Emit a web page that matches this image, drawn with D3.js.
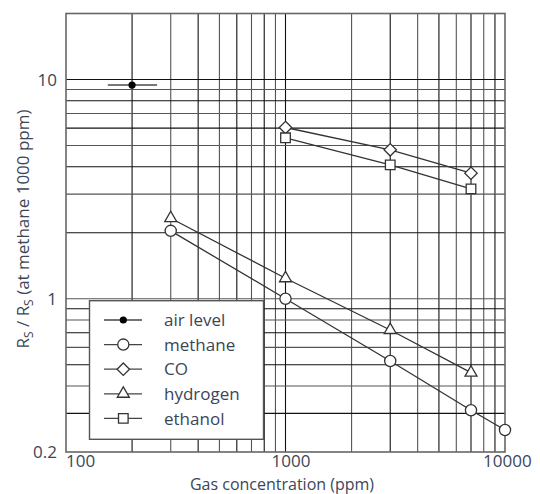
<!DOCTYPE html>
<html>
<head>
<meta charset="utf-8">
<script src="https://cdn.jsdelivr.net/npm/d3@7"></script>
<style>
  html, body { margin: 0; padding: 0; background: #fff; }
  svg { display: block; }
  text { font-family: "Open Sans", "DejaVu Sans", sans-serif; fill: #3b4658; }
</style>
</head>
<body>
<svg id="chart" width="540" height="494"></svg>
<script>
// ---- data ----
const xTickLabels = [100, 1000, 10000];
const yTickLabels = [0.2, 1, 10];
const xGridValues = [200, 300, 400, 500, 600, 700, 800, 900, 1000, 2000, 3000, 4000, 5000, 6000, 7000, 8000, 9000];
const yGridValues = [0.3, 0.4, 0.5, 0.6, 0.7, 0.8, 0.9, 1, 2, 3, 4, 5, 6, 7, 8, 9, 10];

const airConc = 200, airValue = 9.43, airRange = [155, 260];
const methaneConc = [300, 1000, 3000, 7000, 10000];
const methaneValues = [2.04, 1.0, 0.52, 0.31, 0.252];
const hydrogenConc = [300, 1000, 3000, 7000];
const hydrogenValues = [2.33, 1.24, 0.72, 0.46];
const coConc = [1000, 3000, 7000];
const coValues = [6.04, 4.78, 3.74];
const ethanolConc = [1000, 3000, 7000];
const ethanolValues = [5.42, 4.08, 3.17];
const legendLabels = ["air level", "methane", "CO", "hydrogen", "ethanol"];
const legendMarkers = ["dot", "circle", "diamond", "triangle", "square"];

// ---- scales ----
const L = 66, R = 505, T = 13.5, B = 452;
const x = d3.scaleLog().domain([100, 10000]).range([L, R]);
const y = d3.scaleLog().domain([0.2, 20]).range([B, T]);

const svg = d3.select("#chart");

// grid
const grid = svg.append("g");
grid.selectAll("line.vx").data(xGridValues).join("line")
  .attr("x1", d => x(d)).attr("x2", d => x(d)).attr("y1", T).attr("y2", B)
  .attr("stroke", (d, i) => i % 2 ? "#555" : "#111").attr("stroke-width", 1.1);
grid.selectAll("line.hy").data(yGridValues).join("line")
  .attr("y1", d => y(d)).attr("y2", d => y(d)).attr("x1", L).attr("x2", R)
  .attr("stroke", (d, i) => i % 2 ? "#555" : "#111").attr("stroke-width", 1.1);

// frame
svg.append("rect").attr("x", L).attr("y", T).attr("width", R - L).attr("height", B - T)
  .attr("fill", "none").attr("stroke", "#666").attr("stroke-width", 1.6);

// marker paths
function markerPath(type, cx, cy) {
  if (type === "diamond") { const h = 6.2; return `M${cx},${cy - h}L${cx + h},${cy}L${cx},${cy + h}L${cx - h},${cy}Z`; }
  if (type === "triangle") { const s = 12, hh = s * Math.sqrt(3) / 2; return `M${cx},${cy - hh * 2 / 3}L${cx + s / 2},${cy + hh / 3}L${cx - s / 2},${cy + hh / 3}Z`; }
  if (type === "square") { const h = 4.8; return `M${cx - h},${cy - h}H${cx + h}V${cy + h}H${cx - h}Z`; }
  return "";
}
function drawMarker(g, type, cx, cy) {
  if (type === "circle") {
    g.append("circle").attr("cx", cx).attr("cy", cy).attr("r", 5.6)
      .attr("fill", "#fff").attr("stroke", "#333").attr("stroke-width", 1.3);
  } else if (type === "dot") {
    g.append("circle").attr("cx", cx).attr("cy", cy).attr("r", 3.6).attr("fill", "#000");
  } else {
    g.append("path").attr("d", markerPath(type, cx, cy))
      .attr("fill", "#fff").attr("stroke", "#333").attr("stroke-width", 1.3);
  }
}

const line = d3.line().x(d => x(d[0])).y(d => y(d[1]));
const series = [
  { conc: methaneConc, vals: methaneValues, marker: "circle" },
  { conc: hydrogenConc, vals: hydrogenValues, marker: "triangle" },
  { conc: coConc, vals: coValues, marker: "diamond" },
  { conc: ethanolConc, vals: ethanolValues, marker: "square" }
];
const dataG = svg.append("g");
series.forEach(s => {
  const pts = s.conc.map((c, i) => [c, s.vals[i]]);
  dataG.append("path").attr("d", line(pts)).attr("fill", "none")
    .attr("stroke", "#333").attr("stroke-width", 1.3);
});
series.forEach(s => {
  s.conc.forEach((c, i) => drawMarker(dataG, s.marker, x(c), y(s.vals[i])));
});

// air level
dataG.append("line").attr("x1", x(airRange[0])).attr("x2", x(airRange[1]))
  .attr("y1", y(airValue)).attr("y2", y(airValue)).attr("stroke", "#777").attr("stroke-width", 2);
drawMarker(dataG, "dot", x(airConc), y(airValue));

// legend
const lg = svg.append("g");
lg.append("rect").attr("x", 89.5).attr("y", 300.7).attr("width", 174).attr("height", 138.6)
  .attr("fill", "#fff").attr("stroke", "#555").attr("stroke-width", 1.4);
legendLabels.forEach((lab, i) => {
  const cy = 320 + i * 24.6;
  lg.append("line").attr("x1", 104).attr("x2", 142).attr("y1", cy).attr("y2", cy)
    .attr("stroke", "#444").attr("stroke-width", 1.3);
  drawMarker(lg, legendMarkers[i], 123.3, cy);
  lg.append("text").attr("x", 164).attr("y", cy).attr("dy", "0.36em")
    .attr("font-size", 17).text(lab);
});

// y tick labels
svg.selectAll("text.yt").data(yTickLabels).join("text")
  .attr("x", 57).attr("y", d => y(d)).attr("dy", "0.36em")
  .attr("text-anchor", "end").attr("font-size", 17).text(d => String(d));

// x tick labels
const xOffsets = { 100: 0, 1000: -14, 10000: -22 };
svg.selectAll("text.xt").data(xTickLabels).join("text")
  .attr("x", d => x(d) + xOffsets[d]).attr("y", 467)
  .attr("text-anchor", "start").attr("font-size", 17).text(d => String(d));

// axis titles
svg.append("text").attr("x", 282).attr("y", 489.5).attr("text-anchor", "middle")
  .attr("font-size", 16).text("Gas concentration (ppm)");

const yt = svg.append("text").attr("transform", "translate(28.5,229) rotate(-90)")
  .attr("text-anchor", "middle").attr("font-size", 17);
yt.append("tspan").text("R");
yt.append("tspan").attr("font-size", 12).attr("dy", 4).text("S");
yt.append("tspan").attr("dy", -4).text(" / R");
yt.append("tspan").attr("font-size", 12).attr("dy", 4).text("S");
yt.append("tspan").attr("dy", -4).text(" (at methane 1000 ppm)");
</script>
</body>
</html>
